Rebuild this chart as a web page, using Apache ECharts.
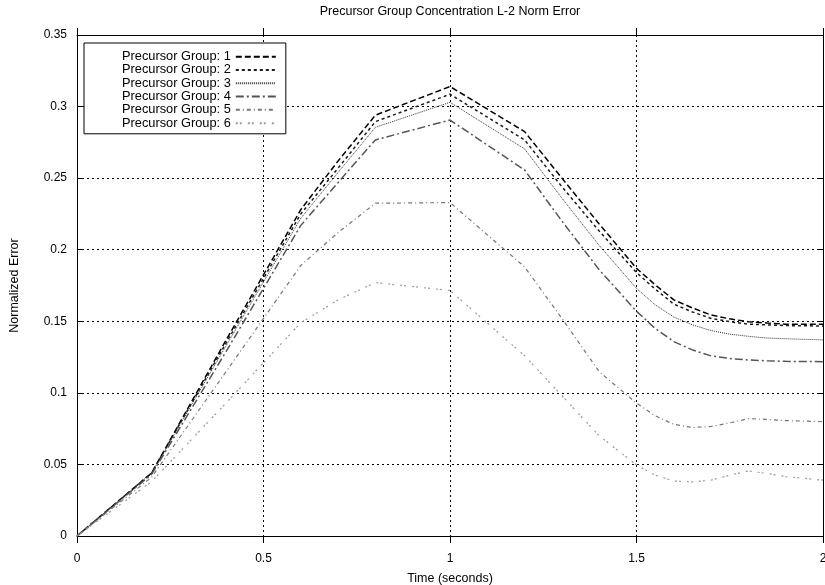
<!DOCTYPE html>
<html>
<head>
<meta charset="utf-8">
<script src="https://cdn.jsdelivr.net/npm/echarts@6/dist/echarts.min.js"></script>
<style>
html,body{margin:0;padding:0;background:#fff;}
#chart{width:825px;height:585px;}
</style>
</head>
<body>
<div id="chart"></div>
<script>
var times = [0, 0.2, 0.4, 0.6, 0.7, 0.8, 1.0, 1.2, 1.3, 1.4, 1.5, 1.55, 1.6, 1.65, 1.7, 1.75, 1.8, 1.85, 1.9, 2.0];
var group1 = [0, 0.044, 0.137, 0.228, 0.262, 0.294, 0.314, 0.2825, 0.250, 0.218, 0.187, 0.1755, 0.165, 0.1593, 0.1544, 0.1517, 0.1497, 0.1488, 0.148, 0.148];
var group2 = [0, 0.044, 0.135, 0.225, 0.257, 0.2895, 0.3086, 0.2767, 0.244, 0.213, 0.184, 0.1725, 0.162, 0.1565, 0.152, 0.1497, 0.148, 0.1475, 0.147, 0.1467];
var group3 = [0, 0.044, 0.133, 0.222, 0.254, 0.2855, 0.303, 0.2704, 0.236, 0.203, 0.173, 0.1615, 0.153, 0.1475, 0.1435, 0.141, 0.1395, 0.1383, 0.1378, 0.137];
var group4 = [0, 0.043, 0.129, 0.217, 0.247, 0.2767, 0.2906, 0.2557, 0.220, 0.186, 0.157, 0.145, 0.1358, 0.130, 0.1258, 0.124, 0.123, 0.1224, 0.122, 0.1218];
var group5 = [0, 0.041, 0.115, 0.189, 0.212, 0.2325, 0.2329, 0.188, 0.152, 0.1148, 0.0928, 0.084, 0.078, 0.0758, 0.0765, 0.079, 0.082, 0.0815, 0.0806, 0.0799];
var group6 = [0, 0.038, 0.093, 0.149, 0.165, 0.177, 0.1715, 0.126, 0.098, 0.070, 0.0496, 0.0425, 0.0384, 0.0378, 0.039, 0.0425, 0.0454, 0.0437, 0.0415, 0.039];
var seriesNames = ['Precursor Group: 1', 'Precursor Group: 2', 'Precursor Group: 3', 'Precursor Group: 4', 'Precursor Group: 5', 'Precursor Group: 6'];

var allValues = [group1, group2, group3, group4, group5, group6];
var styles = [
  {color: '#000000', width: 1.5, type: [6, 3]},
  {color: '#1a1a1a', width: 1.5, type: [3, 3]},
  {color: '#333333', width: 1, type: [1, 1]},
  {color: '#555555', width: 1.5, type: [8, 3, 2, 3]},
  {color: '#777777', width: 1.2, type: [4, 3, 1, 3]},
  {color: '#999999', width: 1.2, type: [2, 2, 2, 6]}
];

var font = 'Liberation Sans, Arial, sans-serif';
var series = allValues.map(function (vals, i) {
  return {
    name: seriesNames[i],
    type: 'line',
    symbol: 'none',
    showSymbol: false,
    smooth: false,
    animation: false,
    lineStyle: styles[i],
    itemStyle: {color: styles[i].color},
    data: times.map(function (t, j) { return [t, vals[j]]; })
  };
});

function fmtX(v) { return String(v); }
function fmtY(v) { return String(parseFloat(v.toFixed(2))); }

var chart = echarts.init(document.getElementById('chart'), null, {renderer: 'canvas'});
chart.setOption({
  backgroundColor: '#ffffff',
  animation: false,
  title: {
    text: 'Precursor Group Concentration L-2 Norm Error',
    left: 445, top: 0, textAlign: 'center',
    textStyle: {fontFamily: font, fontSize: 12.5, fontWeight: 'normal', color: '#000'}
  },
  legend: {
    orient: 'vertical',
    left: 84, top: 43,
    align: 'right',
    padding: [7, 9, 4, 38],
    itemWidth: 40, itemHeight: 13, itemGap: 0,
    itemStyle: {opacity: 0},
    borderColor: '#000', borderWidth: 1, backgroundColor: '#fff', borderRadius: 0,
    textStyle: {fontFamily: font, fontSize: 12.8, lineHeight: 13.3, color: '#000'},
    data: seriesNames
  },
  grid: {left: 77, right: 2, top: 35, bottom: 49, containLabel: false, outerBoundsMode: 'none'},
  xAxis: [{
    type: 'value', min: 0, max: 2, interval: 0.5,
    name: 'Time (seconds)', nameLocation: 'middle', nameGap: 36,
    nameTextStyle: {fontFamily: font, fontSize: 12.5, color: '#000'},
    axisLine: {show: true, lineStyle: {color: '#000', width: 1}},
    axisTick: {show: true, inside: false, length: 7, lineStyle: {color: '#000'}},
    axisLabel: {fontFamily: font, fontSize: 12, color: '#000', margin: 17, formatter: fmtX},
    splitLine: {show: true, lineStyle: {color: '#000', width: 1, type: [2, 3]}}
  }, {
    type: 'value', position: 'top', min: 0, max: 2, interval: 0.5,
    axisLine: {show: true, onZero: false, lineStyle: {color: '#000', width: 1}},
    axisTick: {show: true, inside: false, length: 7, lineStyle: {color: '#000'}},
    axisLabel: {show: false},
    splitLine: {show: false}
  }],
  yAxis: [{
    type: 'value', min: 0, max: 0.35, interval: 0.05,
    name: 'Normalized Error', nameLocation: 'middle', nameGap: 56,
    nameTextStyle: {fontFamily: font, fontSize: 12.5, color: '#000'},
    axisLine: {show: true, lineStyle: {color: '#000', width: 1}},
    axisTick: {show: true, inside: true, length: 6, lineStyle: {color: '#000'}},
    axisLabel: {fontFamily: font, fontSize: 12, color: '#000', margin: 10, formatter: fmtY},
    splitLine: {show: true, lineStyle: {color: '#000', width: 1, type: [2, 3]}}
  }, {
    type: 'value', position: 'right', min: 0, max: 0.35, interval: 0.05,
    axisLine: {show: true, onZero: false, lineStyle: {color: '#000', width: 1}},
    axisTick: {show: true, inside: true, length: 6, lineStyle: {color: '#000'}},
    axisLabel: {show: false},
    splitLine: {show: false}
  }],
  series: series
});
</script>
</body>
</html>
